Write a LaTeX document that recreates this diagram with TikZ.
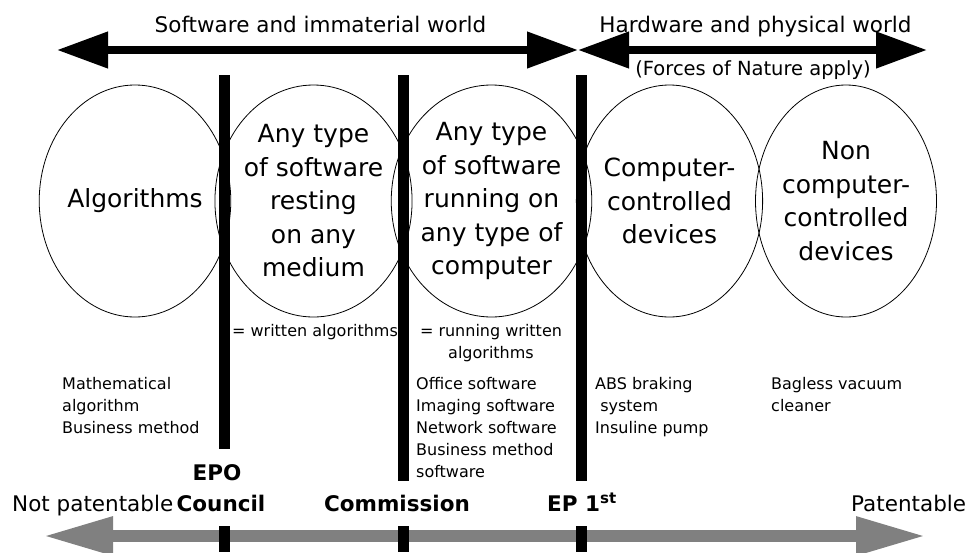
\documentclass[tikz,border=0pt]{standalone}
\usepackage{fontspec}
\setmainfont{DejaVu Sans}
\usetikzlibrary{arrows.meta, positioning, shapes.geometric}

\begin{document}
\begin{tikzpicture}[x=1pt, y=-1pt,
    field/.style={ellipse, draw=black, line width=0.8pt, minimum width=170pt, minimum height=232pt, inner sep=0pt, align=center, font=\fontsize{25}{33.5}\selectfont},
    note/.style={inner sep=0pt, font=\fontsize{16}{22}\selectfont},
    world/.style={font=\fontsize{21.5}{26}\selectfont, inner sep=0pt},
    body/.style={font=\bfseries\fontsize{21.5}{26}\selectfont, inner sep=0pt},
    wide/.style={{Triangle[length=51pt, width=35pt]}-{Triangle[length=51pt, width=35pt]}, line width=7.5pt},
    patscale/.style={{Triangle[length=70pt, width=36pt]}-{Triangle[length=70pt, width=36pt]}, line width=12pt, draw=gray},
    limit/.style={line width=11pt, draw=black}
]
\useasboundingbox (0,0) rectangle (971,552);

% Top arrows
\coordinate (soft-l) at (57,50);
\coordinate (mid) at (578,50);
\coordinate (hard-r) at (927,50);
\draw[wide] (soft-l) -- (mid);
\draw[wide] (mid) -- (hard-r);
\node[world, anchor=base] (soft) at (320.5,32) {Software and immaterial world};
\node[world, anchor=base] (hard) at (755.5,32) {Hardware and physical world};
\node[world, anchor=base, font=\fontsize{19.5}{24}\selectfont] (nature) at (753,75) {(Forces of Nature apply)};

% Categories
\node[field] (alg) at (135,201) {Algorithms};
\node[field] (medium) at (313.5,201) {Any type\\of software\\resting\\on any\\medium};
\node[field] (running) at (491.5,201) {Any type\\of software\\running on\\any type of\\computer};
\node[field] (ctrl) at (669.5,201) {Computer-\\controlled\\devices};
\node[field] (nonctrl) at (846,201) {Non\\computer-\\controlled\\devices};

% Patentability scale
\coordinate (not-l) at (43,536);
\coordinate (pat-r) at (926,536);
\draw[patscale] (not-l) -- (pat-r);
\node[world, anchor=base west] (notpat) at (12,511) {Not patentable};
\node[world, anchor=base west] (pat) at (851,511) {Patentable};

% Limits
\draw[limit] (224,75) -- (224,449);
\draw[limit] (403,75) -- (403,481);
\draw[limit] (581,75) -- (581,481);
\draw[limit] (224,526) -- (224,552);
\draw[limit] (403,526) -- (403,552);
\draw[limit] (581,526) -- (581,552);
\node[body, anchor=base] (epo) at (217,480) {EPO};
\node[body, anchor=base] (council) at (221,511) {Council};
\node[body, anchor=base] (commission) at (397,511) {Commission};
\node[body, anchor=base west] (ep) at (547,511) {EP 1\textsuperscript{st}};

% Examples
\node[note, anchor=base] (written) at (315,336) {= written algorithms};
\node[note, anchor=north, align=center] (runwritten) at (491,324) {= running written\\algorithms};
\node[note, anchor=north west, align=left] (maths) at (62,377) {Mathematical\\algorithm\\Business method};
\node[note, anchor=north west, align=left] (office) at (416,377) {Office software\\Imaging software\\Network software\\Business method\\software};
\node[note, anchor=north west, align=left] (abs) at (595,377) {ABS braking\\\ system\\Insuline pump};
\node[note, anchor=north west, align=left] (vacuum) at (771,377) {Bagless vacuum\\cleaner};

\end{tikzpicture}
\end{document}
